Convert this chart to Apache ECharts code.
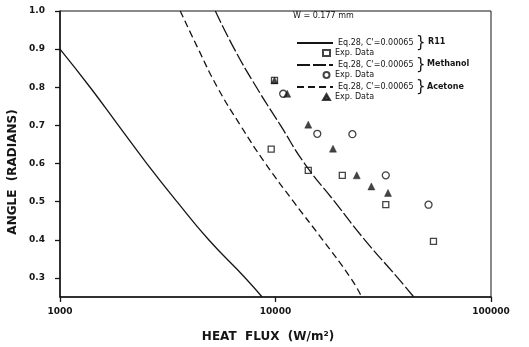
<!DOCTYPE html>
<html>
<head>
<meta charset="utf-8">
<script src="https://cdn.jsdelivr.net/npm/echarts@6/dist/echarts.min.js"></script>
<style>html,body{margin:0;padding:0;background:#fff}#c{width:529px;height:347px}</style>
</head>
<body>
<div id="c"></div>
<script>
const xTicks = [1000, 10000, 100000];
const yTicks = [0.3, 0.4, 0.5, 0.6, 0.7, 0.8, 0.9, 1.0];

const r11CurveX = [1000, 1379, 1866, 2529, 3490, 4897, 7240, 8670];
const r11CurveY = [0.90, 0.80, 0.70, 0.60, 0.50, 0.40, 0.30, 0.25];
const methCurveX = [5259, 6448, 8158, 10551, 13646, 18809, 25940, 36940, 43850];
const methCurveY = [1.0, 0.9, 0.8, 0.7, 0.6, 0.5, 0.4, 0.3, 0.25];
const acetCurveX = [3614, 4385, 5374, 6875, 8984, 12125, 16544, 22330, 25120];
const acetCurveY = [1.0, 0.9, 0.8, 0.7, 0.6, 0.5, 0.4, 0.3, 0.25];

const r11DataX = [9550, 14190, 20420, 32490, 54080, 9892];
const r11DataY = [0.638, 0.582, 0.569, 0.492, 0.396, 0.818];
const methDataX = [10856, 15630, 22740, 32490, 51300];
const methDataY = [0.783, 0.678, 0.677, 0.569, 0.492];
const acetDataX = [11333, 14190, 18480, 23830, 27850, 33270, 9892];
const acetDataY = [0.783, 0.702, 0.639, 0.569, 0.540, 0.523, 0.818];

const fluids = ['R11', 'Methanol', 'Acetone'];
const eqLabel = "Eq.28, C'=0.00065";
const expLabel = 'Exp. Data';

const zip = (xs, ys) => xs.map((x, i) => [x, ys[i]]);
const INK = '#151515';
const FONT = 'DejaVu Sans';

const lineNames = fluids.map(f => eqLabel + '|' + f);
const expNames = fluids.map(f => expLabel + '|' + f);

const chart = echarts.init(document.getElementById('c'), null, {renderer: 'canvas'});
chart.setOption({
  backgroundColor: '#fff',
  animation: false,
  grid: {left: 60, right: 38, top: 11, bottom: 50, show: true, borderColor: INK, borderWidth: 1, backgroundColor: 'transparent'},
  xAxis: {
    type: 'log', logBase: 10, min: 1000, max: 100000,
    axisLine: {lineStyle: {color: INK, width: 1.6}},
    axisTick: {show: true, inside: false, length: 5, lineStyle: {color: INK, width: 1.3}},
    minorTick: {show: false},
    splitLine: {show: false},
    axisLabel: {color: INK, fontFamily: FONT, fontWeight: 'bold', fontSize: 9, margin: 10,
      formatter: v => String(Math.round(v))}
  },
  yAxis: {
    type: 'value', min: 0.25, max: 1.0,
    axisLine: {show: true, lineStyle: {color: INK, width: 1.5}},
    axisTick: {show: true, inside: false, length: 5, customValues: yTicks, lineStyle: {color: INK, width: 1.3}},
    splitLine: {show: false},
    axisLabel: {color: INK, fontFamily: FONT, fontWeight: 'bold', fontSize: 9, margin: 15,
      customValues: yTicks, formatter: v => Number(v).toFixed(1)}
  },
  legend: [
    {
      data: lineNames, orient: 'vertical', left: 291, top: 33,
      itemWidth: 36, itemHeight: 8, itemGap: 12,
      itemStyle: {color: 'transparent', borderColor: 'transparent', borderWidth: 0, opacity: 0},
      formatter: n => n.split('|')[0],
      textStyle: {color: INK, fontFamily: FONT, fontSize: 8, lineHeight: 10}
    },
    {
      data: expNames, orient: 'vertical', left: 317, top: 43,
      itemWidth: 7, itemHeight: 6, itemGap: 12,
      formatter: n => n.split('|')[0],
      textStyle: {color: INK, fontFamily: FONT, fontSize: 8, lineHeight: 10}
    }
  ],
  graphic: [
    {type: 'text', left: 293, top: 12, style: {text: 'W = 0.177 mm', fill: INK, font: '8px "DejaVu Sans"'}},
    {type: 'text', x: 416, y: 43, style: {text: '}', fill: INK, font: '15px "DejaVu Sans"', verticalAlign: 'middle'}},
    {type: 'text', x: 416, y: 65, style: {text: '}', fill: INK, font: '15px "DejaVu Sans"', verticalAlign: 'middle'}},
    {type: 'text', x: 416, y: 87, style: {text: '}', fill: INK, font: '15px "DejaVu Sans"', verticalAlign: 'middle'}},
    {type: 'text', x: 428, y: 42, style: {text: fluids[0], fill: INK, font: 'bold 8px "DejaVu Sans"', verticalAlign: 'middle'}},
    {type: 'text', x: 427, y: 64, style: {text: fluids[1], fill: INK, font: 'bold 8px "DejaVu Sans"', verticalAlign: 'middle'}},
    {type: 'text', x: 427, y: 87, style: {text: fluids[2], fill: INK, font: 'bold 8px "DejaVu Sans"', verticalAlign: 'middle'}},
    {type: 'text', x: 268, y: 337, style: {text: 'HEAT  FLUX  (W/m\u00B2)', fill: INK, font: 'bold 12px "DejaVu Sans"', align: 'center', verticalAlign: 'middle'}},
    {type: 'text', x: 13, y: 172, rotation: Math.PI / 2, style: {text: 'ANGLE  (RADIANS)', fill: INK, font: 'bold 12px "DejaVu Sans"', align: 'center', verticalAlign: 'middle'}}
  ],
  series: [
    {name: lineNames[0], type: 'line', data: zip(r11CurveX, r11CurveY), smooth: 0.5, symbol: 'none',
      lineStyle: {color: INK, width: 1.3, type: 'solid'}, itemStyle: {color: INK}},
    {name: lineNames[1], type: 'line', data: zip(methCurveX, methCurveY), smooth: 0.5, symbol: 'none',
      lineStyle: {color: INK, width: 1.3, type: [13, 3]}, itemStyle: {color: INK}},
    {name: lineNames[2], type: 'line', data: zip(acetCurveX, acetCurveY), smooth: 0.5, symbol: 'none',
      lineStyle: {color: INK, width: 1.3, type: [7, 4]}, itemStyle: {color: INK}},
    {name: expNames[0], type: 'scatter', data: zip(r11DataX, r11DataY), symbol: 'rect', symbolSize: 6,
      itemStyle: {color: '#fff', borderColor: INK, borderWidth: 1.3}},
    {name: expNames[1], type: 'scatter', data: zip(methDataX, methDataY), symbol: 'circle', symbolSize: 7,
      itemStyle: {color: '#fff', borderColor: INK, borderWidth: 1.3}},
    {name: expNames[2], type: 'scatter', data: zip(acetDataX, acetDataY), symbol: 'triangle', symbolSize: 7,
      itemStyle: {color: INK, borderColor: INK, borderWidth: 0.5}}
  ]
});
</script>
</body>
</html>
